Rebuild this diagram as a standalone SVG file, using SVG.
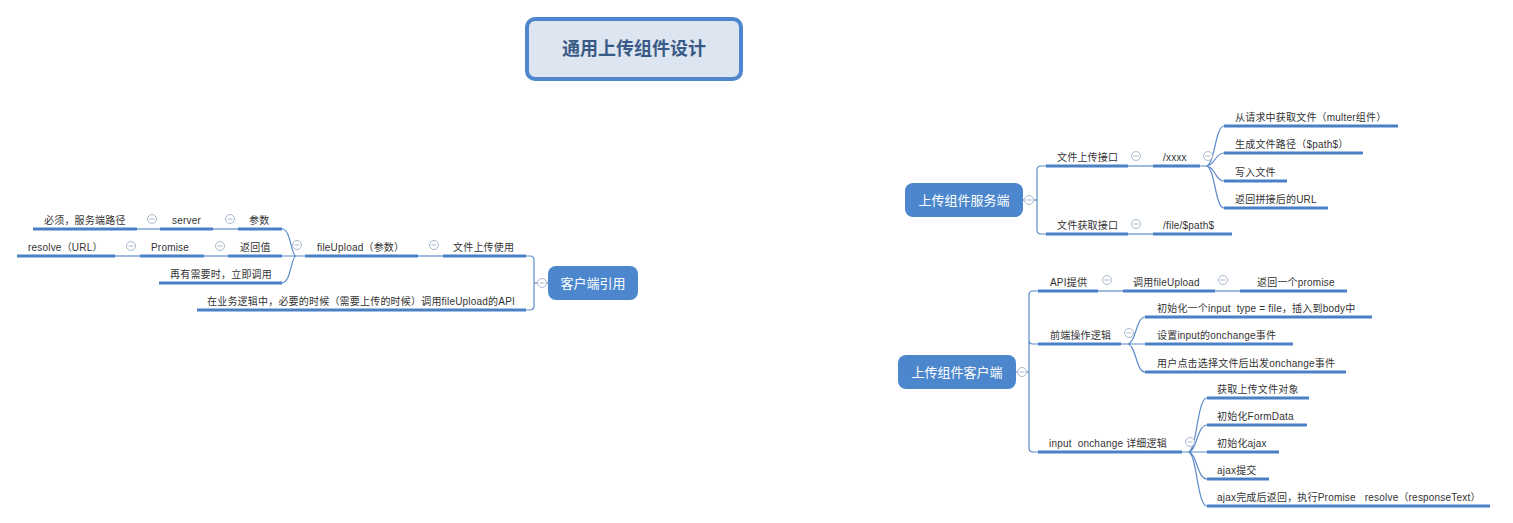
<svg xmlns="http://www.w3.org/2000/svg" width="1513" height="523" viewBox="0 0 1513 523">
<defs>
<style>
.t{font-family:"Liberation Sans","Noto Sans CJK SC",sans-serif;font-size:10px;fill:#333;white-space:pre;letter-spacing:0.2px}
.b{font-family:"Liberation Sans","Noto Sans CJK SC",sans-serif;font-size:13px;fill:#fff;text-anchor:middle}
.u{stroke:#4a80c4;stroke-width:3;fill:none}
.c{stroke:#5b8bc9;stroke-width:1.2;fill:none}
.box{fill:#4c87cd}
.k{fill:#fff;stroke:#a8b8cf;stroke-width:1}
.km{stroke:#a8b8cf;stroke-width:1}
</style>
<g id="col"><circle class="k" r="4.5"/><line class="km" x1="-2.5" y1="0" x2="2.5" y2="0"/></g>
</defs>
<rect width="1513" height="523" fill="#fff"/>

<g id="connectors">
<line class="c" x1="534" y1="283" x2="548" y2="283"/>
<path class="c" d="M526 256 L530 256 Q534 256 534 260 L534 306 Q534 310 530 310 L526 310"/>
<line class="c" x1="418" y1="256" x2="443" y2="256"/>
<path class="c" d="M305 256 L296 256 C291 256 291 229 282 229 M296 256 L282 256 M296 256 C291 256 291 283 282 283"/>
<line class="c" x1="213" y1="229" x2="238" y2="229"/>
<line class="c" x1="137" y1="229" x2="160" y2="229"/>
<line class="c" x1="204" y1="256" x2="228" y2="256"/>
<line class="c" x1="115" y1="256" x2="140" y2="256"/>
<line class="c" x1="1023" y1="200" x2="1037" y2="200"/>
<path class="c" d="M1046 166 L1041 166 Q1037 166 1037 170 L1037 230 Q1037 234 1041 234 L1046 234"/>
<line class="c" x1="1128" y1="166" x2="1153" y2="166"/>
<line class="c" x1="1128" y1="234" x2="1153" y2="234"/>
<path class="c" d="M1200 166 L1206 166 C1215 166 1215 126 1224 126 M1206 166 C1215 166 1215 153 1224 153 M1206 166 C1215 166 1215 181 1224 181 M1206 166 C1215 166 1215 208 1224 208"/>
<line class="c" x1="1016" y1="372" x2="1029" y2="372"/>
<path class="c" d="M1038 291 L1033 291 Q1029 291 1029 295 L1029 448 Q1029 452 1033 452 L1038 452 M1029 340 Q1029 344 1033 344 L1038 344"/>
<line class="c" x1="1098" y1="291" x2="1123" y2="291"/>
<line class="c" x1="1215" y1="291" x2="1240" y2="291"/>
<path class="c" d="M1121 344 L1127 344 C1136 344 1136 317 1145 317 M1127 344 L1145 344 M1127 344 C1136 344 1136 372 1145 372"/>
<path class="c" d="M1182 452 L1188 452 C1197 452 1197 398 1207 398 M1188 452 C1197 452 1197 425 1207 425 M1188 452 L1207 452 M1188 452 C1197 452 1197 479 1207 479 M1188 452 C1197 452 1197 506 1207 506"/>
</g>

<g id="title">
<rect x="527" y="19" width="214" height="60" rx="8" fill="#dce5f0" stroke="#4f87cf" stroke-width="4"/>
<text x="634" y="55" text-anchor="middle" style="font-family:'Liberation Sans','Noto Sans CJK SC',sans-serif;font-size:18px;font-weight:bold;fill:#3a5a86">通用上传组件设计</text>
</g>

<g id="client-ref">
<rect class="box" x="548" y="266" width="90" height="34" rx="8"/>
<text class="b" x="593" y="287.5">客户端引用</text>
<use href="#col" x="542" y="283"/>
</g>
<g id="n-upload-use"><line class="u" x1="443" y1="256" x2="526" y2="256"/><text class="t" x="453" y="251">文件上传使用</text><use href="#col" x="434" y="245"/></g>
<g id="n-business"><line class="u" x1="197" y1="310" x2="526" y2="310"/><text class="t" x="207" y="305">在业务逻辑中，必要的时候（需要上传的时候）调用fileUpload的API</text></g>
<g id="n-fileupload"><line class="u" x1="305" y1="256" x2="418" y2="256"/><text class="t" x="317" y="251">fileUpload（参数）</text><use href="#col" x="297" y="245"/></g>
<g id="n-params"><line class="u" x1="238" y1="229" x2="282" y2="229"/><text class="t" x="249" y="224">参数</text><use href="#col" x="230" y="219"/></g>
<g id="n-server"><line class="u" x1="160" y1="229" x2="213" y2="229"/><text class="t" x="172" y="224">server</text><use href="#col" x="152" y="219"/></g>
<g id="n-required"><line class="u" x1="33" y1="229" x2="137" y2="229"/><text class="t" x="44" y="224">必须，服务端路径</text></g>
<g id="n-return"><line class="u" x1="228" y1="256" x2="282" y2="256"/><text class="t" x="240" y="251">返回值</text><use href="#col" x="220" y="246"/></g>
<g id="n-promise"><line class="u" x1="140" y1="256" x2="204" y2="256"/><text class="t" x="151" y="251">Promise</text><use href="#col" x="131" y="246"/></g>
<g id="n-resolve"><line class="u" x1="17" y1="256" x2="115" y2="256"/><text class="t" x="28" y="251">resolve（URL）</text></g>
<g id="n-call"><line class="u" x1="159" y1="283" x2="282" y2="283"/><text class="t" x="170" y="278">再有需要时，立即调用</text></g>

<g id="server-side">
<rect class="box" x="905" y="183" width="118" height="34" rx="8"/>
<text class="b" x="964" y="204.5">上传组件服务端</text>
<use href="#col" x="1029" y="200"/>
</g>
<g id="s-upload"><line class="u" x1="1046" y1="166" x2="1128" y2="166"/><text class="t" x="1057" y="161">文件上传接口</text><use href="#col" x="1136" y="156"/></g>
<g id="s-xxxx"><line class="u" x1="1153" y1="166" x2="1200" y2="166"/><text class="t" x="1163" y="161">/xxxx</text><use href="#col" x="1208" y="156"/></g>
<g id="s-x1"><line class="u" x1="1224" y1="126" x2="1398" y2="126"/><text class="t" x="1235" y="121">从请求中获取文件（multer组件）</text></g>
<g id="s-x2"><line class="u" x1="1224" y1="153" x2="1363" y2="153"/><text class="t" x="1235" y="148">生成文件路径（$path$）</text></g>
<g id="s-x3"><line class="u" x1="1224" y1="181" x2="1287" y2="181"/><text class="t" x="1235" y="176">写入文件</text></g>
<g id="s-x4"><line class="u" x1="1224" y1="208" x2="1328" y2="208"/><text class="t" x="1235" y="203">返回拼接后的URL</text></g>
<g id="s-get"><line class="u" x1="1046" y1="234" x2="1128" y2="234"/><text class="t" x="1057" y="229">文件获取接口</text><use href="#col" x="1136" y="224"/></g>
<g id="s-path"><line class="u" x1="1153" y1="234" x2="1232" y2="234"/><text class="t" x="1163" y="229">/file/$path$</text></g>

<g id="client-side">
<rect class="box" x="898" y="355" width="118" height="34" rx="8"/>
<text class="b" x="957" y="376.5">上传组件客户端</text>
<use href="#col" x="1022" y="372"/>
</g>
<g id="c-api"><line class="u" x1="1038" y1="291" x2="1098" y2="291"/><text class="t" x="1050" y="286">API提供</text><use href="#col" x="1107" y="280"/></g>
<g id="c-call"><line class="u" x1="1123" y1="291" x2="1215" y2="291"/><text class="t" x="1133" y="286">调用fileUpload</text><use href="#col" x="1223" y="280"/></g>
<g id="c-promise"><line class="u" x1="1240" y1="291" x2="1347" y2="291"/><text class="t" x="1257" y="286">返回一个promise</text></g>
<g id="c-front"><line class="u" x1="1038" y1="344" x2="1121" y2="344"/><text class="t" x="1050" y="339">前端操作逻辑</text><use href="#col" x="1129" y="333"/></g>
<g id="c-f1"><line class="u" x1="1145" y1="317" x2="1372" y2="317"/><text class="t" x="1157" y="312">初始化一个input  type = file，插入到body中</text></g>
<g id="c-f2"><line class="u" x1="1145" y1="344" x2="1293" y2="344"/><text class="t" x="1157" y="339">设置input的onchange事件</text></g>
<g id="c-f3"><line class="u" x1="1145" y1="372" x2="1346" y2="372"/><text class="t" x="1157" y="367">用户点击选择文件后出发onchange事件</text></g>
<g id="c-onchange"><line class="u" x1="1038" y1="452" x2="1182" y2="452"/><text class="t" x="1049" y="447">input  onchange 详细逻辑</text><use href="#col" x="1190" y="442"/></g>
<g id="c-o1"><line class="u" x1="1207" y1="398" x2="1309" y2="398"/><text class="t" x="1217" y="393">获取上传文件对象</text></g>
<g id="c-o2"><line class="u" x1="1207" y1="425" x2="1307" y2="425"/><text class="t" x="1217" y="420">初始化FormData</text></g>
<g id="c-o3"><line class="u" x1="1207" y1="452" x2="1279" y2="452"/><text class="t" x="1217" y="447">初始化ajax</text></g>
<g id="c-o4"><line class="u" x1="1207" y1="479" x2="1269" y2="479"/><text class="t" x="1217" y="474">ajax提交</text></g>
<g id="c-o5"><line class="u" x1="1207" y1="506" x2="1490" y2="506"/><text class="t" x="1217" y="501">ajax完成后返回，执行Promise   resolve（responseText）</text></g>
</svg>
